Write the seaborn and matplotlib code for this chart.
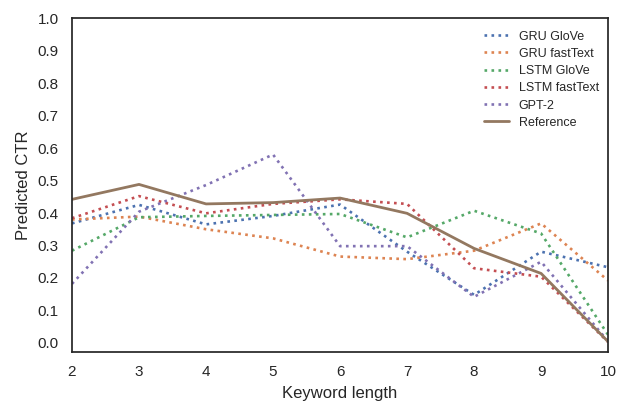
import matplotlib
matplotlib.use("Agg")
import matplotlib.pyplot as plt
import seaborn as sns
import pandas as pd

keyword_length = [2, 3, 4, 5, 6, 7, 8, 9, 10]
gru_glove = [0.368, 0.425, 0.365, 0.391, 0.426, 0.281, 0.148, 0.281, 0.233]
gru_fasttext = [0.380, 0.389, 0.350, 0.322, 0.266, 0.258, 0.284, 0.368, 0.192]
lstm_glove = [0.284, 0.387, 0.391, 0.394, 0.397, 0.325, 0.407, 0.337, 0.025]
lstm_fasttext = [0.384, 0.452, 0.399, 0.428, 0.442, 0.428, 0.230, 0.204, 0.003]
gpt2 = [0.182, 0.404, 0.486, 0.580, 0.298, 0.298, 0.142, 0.250, 0.005]
reference = [0.442, 0.488, 0.428, 0.432, 0.446, 0.399, 0.291, 0.214, 0.004]
series_names = ["GRU GloVe", "GRU fastText", "LSTM GloVe", "LSTM fastText", "GPT-2", "Reference"]
y_ticks = [0.0, 0.1, 0.2, 0.3, 0.4, 0.5, 0.6, 0.7, 0.8, 0.9, 1.0]

sns.set_theme(style="white")
plt.rcParams["font.family"] = ["Liberation Sans", "DejaVu Sans"]

fig = plt.figure(figsize=(6.18, 4.01), dpi=100)
ax = fig.add_axes([0.1165, 0.122, 0.8675, 0.833])
pal = sns.color_palette("deep")
all_vals = [gru_glove, gru_fasttext, lstm_glove, lstm_fasttext, gpt2, reference]
for i, (name, vals) in enumerate(zip(series_names, all_vals)):
    df = pd.DataFrame({"x": keyword_length, "y": vals})
    if name == "Reference":
        sns.lineplot(data=df, x="x", y="y", ax=ax, color=pal[5], lw=2, label=name)
    else:
        sns.lineplot(data=df, x="x", y="y", ax=ax, color=pal[i], lw=1.9, ls=":", label=name)

ax.set_xlim(2, 10)
ax.set_ylim(-0.028, 1.0)
ax.set_yticks(y_ticks)
ax.set_xlabel("Keyword length", fontsize=12, labelpad=5)
ax.set_ylabel("Predicted CTR", fontsize=12, labelpad=5)
ax.tick_params(labelsize=11)
for s in ax.spines.values():
    s.set_color("#262626")
    s.set_linewidth(1.25)
ax.legend(loc="upper right", frameon=False, fontsize=9, labelspacing=0.42,
          handlelength=2.0, borderaxespad=0.6, bbox_to_anchor=(1.006, 1.0))
fig.savefig("out.png", dpi=100)
